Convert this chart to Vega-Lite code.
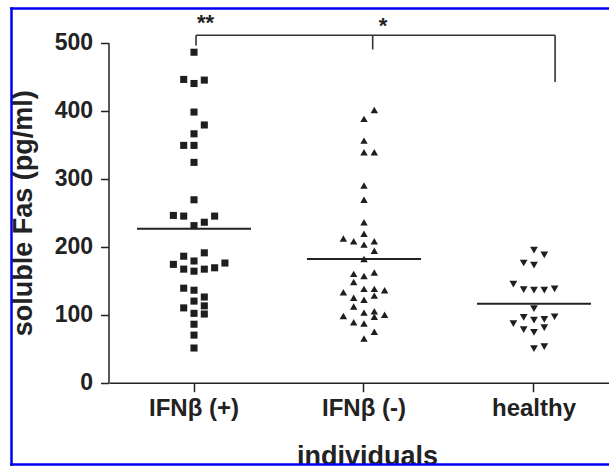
{
  "$schema": "https://vega.github.io/schema/vega-lite/v6.json",
  "width": 602,
  "height": 456,
  "autosize": {"type": "none"},
  "padding": {"left": 11, "top": 8, "right": -4, "bottom": 2},
  "background": "white",
  "config": {
    "view": {"stroke": null},
    "font": "Liberation Sans"
  },
  "datasets": {
    "points": [
      {"group": "IFNβ (+)", "value": 486, "slot": 0},
      {"group": "IFNβ (+)", "value": 446, "slot": -1},
      {"group": "IFNβ (+)", "value": 440, "slot": 0},
      {"group": "IFNβ (+)", "value": 445, "slot": 1},
      {"group": "IFNβ (+)", "value": 398, "slot": 0},
      {"group": "IFNβ (+)", "value": 379, "slot": 1},
      {"group": "IFNβ (+)", "value": 366, "slot": 0},
      {"group": "IFNβ (+)", "value": 349, "slot": -1},
      {"group": "IFNβ (+)", "value": 349, "slot": 0},
      {"group": "IFNβ (+)", "value": 324, "slot": 0},
      {"group": "IFNβ (+)", "value": 269, "slot": 0},
      {"group": "IFNβ (+)", "value": 246, "slot": -2},
      {"group": "IFNβ (+)", "value": 245, "slot": -1},
      {"group": "IFNβ (+)", "value": 245, "slot": 2},
      {"group": "IFNβ (+)", "value": 231, "slot": 0},
      {"group": "IFNβ (+)", "value": 236, "slot": 1},
      {"group": "IFNβ (+)", "value": 191, "slot": 1},
      {"group": "IFNβ (+)", "value": 186, "slot": -1},
      {"group": "IFNβ (+)", "value": 179, "slot": 0},
      {"group": "IFNβ (+)", "value": 174, "slot": -2},
      {"group": "IFNβ (+)", "value": 167, "slot": -1},
      {"group": "IFNβ (+)", "value": 164, "slot": 0},
      {"group": "IFNβ (+)", "value": 167, "slot": 1},
      {"group": "IFNβ (+)", "value": 169, "slot": 2},
      {"group": "IFNβ (+)", "value": 176, "slot": 3},
      {"group": "IFNβ (+)", "value": 139, "slot": -1},
      {"group": "IFNβ (+)", "value": 136, "slot": 0},
      {"group": "IFNβ (+)", "value": 126, "slot": 1},
      {"group": "IFNβ (+)", "value": 120, "slot": 0},
      {"group": "IFNβ (+)", "value": 110, "slot": -1},
      {"group": "IFNβ (+)", "value": 113, "slot": 1},
      {"group": "IFNβ (+)", "value": 102, "slot": 0},
      {"group": "IFNβ (+)", "value": 101, "slot": 1},
      {"group": "IFNβ (+)", "value": 86, "slot": 0},
      {"group": "IFNβ (+)", "value": 70, "slot": 0},
      {"group": "IFNβ (+)", "value": 51, "slot": 0},
      {"group": "IFNβ (-)", "value": 401, "slot": 1},
      {"group": "IFNβ (-)", "value": 388, "slot": 0},
      {"group": "IFNβ (-)", "value": 356, "slot": 0},
      {"group": "IFNβ (-)", "value": 339, "slot": 0},
      {"group": "IFNβ (-)", "value": 339, "slot": 1},
      {"group": "IFNβ (-)", "value": 290, "slot": 0},
      {"group": "IFNβ (-)", "value": 269, "slot": 0},
      {"group": "IFNβ (-)", "value": 236, "slot": 0},
      {"group": "IFNβ (-)", "value": 219, "slot": 0},
      {"group": "IFNβ (-)", "value": 212, "slot": -2},
      {"group": "IFNβ (-)", "value": 208, "slot": -1},
      {"group": "IFNβ (-)", "value": 203, "slot": 0},
      {"group": "IFNβ (-)", "value": 208, "slot": 1},
      {"group": "IFNβ (-)", "value": 194, "slot": 1},
      {"group": "IFNβ (-)", "value": 182, "slot": 0},
      {"group": "IFNβ (-)", "value": 160, "slot": -1},
      {"group": "IFNβ (-)", "value": 157, "slot": 0},
      {"group": "IFNβ (-)", "value": 162, "slot": 1},
      {"group": "IFNβ (-)", "value": 148, "slot": -1},
      {"group": "IFNβ (-)", "value": 133, "slot": -2},
      {"group": "IFNβ (-)", "value": 138, "slot": 0},
      {"group": "IFNβ (-)", "value": 138, "slot": 1},
      {"group": "IFNβ (-)", "value": 136, "slot": 2},
      {"group": "IFNβ (-)", "value": 125, "slot": -1},
      {"group": "IFNβ (-)", "value": 122, "slot": 0},
      {"group": "IFNβ (-)", "value": 128, "slot": 1},
      {"group": "IFNβ (-)", "value": 112, "slot": -1},
      {"group": "IFNβ (-)", "value": 98, "slot": -2},
      {"group": "IFNβ (-)", "value": 103, "slot": 0},
      {"group": "IFNβ (-)", "value": 105, "slot": 1},
      {"group": "IFNβ (-)", "value": 97, "slot": 1},
      {"group": "IFNβ (-)", "value": 100, "slot": 2},
      {"group": "IFNβ (-)", "value": 89, "slot": -1},
      {"group": "IFNβ (-)", "value": 87, "slot": 0},
      {"group": "IFNβ (-)", "value": 75, "slot": 1},
      {"group": "IFNβ (-)", "value": 65, "slot": 0},
      {"group": "healthy", "value": 195, "slot": 0},
      {"group": "healthy", "value": 188, "slot": 1},
      {"group": "healthy", "value": 176, "slot": -1},
      {"group": "healthy", "value": 173, "slot": 0},
      {"group": "healthy", "value": 145, "slot": -2},
      {"group": "healthy", "value": 137, "slot": -1},
      {"group": "healthy", "value": 136, "slot": 0},
      {"group": "healthy", "value": 136, "slot": 1},
      {"group": "healthy", "value": 138, "slot": 2},
      {"group": "healthy", "value": 109, "slot": 0},
      {"group": "healthy", "value": 96, "slot": -1},
      {"group": "healthy", "value": 92, "slot": 0},
      {"group": "healthy", "value": 93, "slot": 1},
      {"group": "healthy", "value": 97, "slot": 2},
      {"group": "healthy", "value": 87, "slot": -2},
      {"group": "healthy", "value": 78, "slot": -1},
      {"group": "healthy", "value": 74, "slot": 0},
      {"group": "healthy", "value": 81, "slot": 1},
      {"group": "healthy", "value": 50, "slot": 0},
      {"group": "healthy", "value": 53, "slot": 1}
    ],
    "medians": [
      {"group": "IFNβ (+)", "median": 226.5},
      {"group": "IFNβ (-)", "median": 182},
      {"group": "healthy", "median": 116}
    ],
    "bracket": [
      {"x": 1.012, "x2": 3.124, "y": 511, "y2": 511},
      {"x": 1.012, "x2": 1.012, "y": 511, "y2": 496},
      {"x": 2.051, "x2": 2.051, "y": 511, "y2": 490},
      {"x": 3.124, "x2": 3.124, "y": 511, "y2": 442}
    ],
    "stars": [
      {"x": 1.068, "y": 529, "label": "**"},
      {"x": 2.112, "y": 524, "label": "*"}
    ]
  },
  "layer": [
    {
      "layer": [
        {
          "data": {"name": "points"},
          "mark": {"type": "point", "filled": true, "color": "#1e1e1e", "opacity": 1},
          "encoding": {
            "x": {
              "field": "group",
              "type": "nominal",
              "sort": ["IFNβ (+)", "IFNβ (-)", "healthy"],
              "scale": {"type": "band", "range": [98, 614], "paddingInner": 0.3294, "paddingOuter": 0.1824, "align": 0.4516},
              "axis": {
                "orient": "bottom",
                "title": "individuals",
                "offset": -81.3,
                "labelAngle": 0,
                "domainColor": "#222",
                "domainWidth": 1.5,
                "tickColor": "#222",
                "tickWidth": 1.5,
                "tickSize": 9,
                "labelFontSize": 24,
                "labelFontWeight": "bold",
                "labelColor": "#222",
                "labelPadding": 5,
                "titleFontSize": 27,
                "titleFontWeight": "bold",
                "titleColor": "#222",
                "titlePadding": 23
              }
            },
            "xOffset": {"field": "slot", "type": "quantitative", "scale": {"domain": [-5.53, 5.53]}},
            "y": {
              "field": "value",
              "type": "quantitative",
              "scale": {"domain": [0, 500], "range": [374.7, 34.7], "nice": false},
              "axis": {
                "orient": "left",
                "values": [0, 100, 200, 300, 400, 500],
                "title": "soluble Fas (pg/ml)",
                "offset": -97.5,
                "grid": false,
                "domainColor": "#222",
                "domainWidth": 1.5,
                "tickColor": "#222",
                "tickWidth": 1.5,
                "tickSize": 8,
                "labelFontSize": 23,
                "labelFontWeight": "bold",
                "labelColor": "#222",
                "labelPadding": 8,
                "titleFontSize": 27,
                "titleFontWeight": "bold",
                "titleColor": "#222",
                "titlePadding": 17
              }
            },
            "shape": {
              "field": "group",
              "type": "nominal",
              "scale": {"domain": ["IFNβ (+)", "IFNβ (-)", "healthy"], "range": ["square", "triangle-up", "triangle-down"]},
              "legend": null
            },
            "size": {
              "field": "group",
              "type": "nominal",
              "scale": {"domain": ["IFNβ (+)", "IFNβ (-)", "healthy"], "range": [50, 60, 60]},
              "legend": null
            }
          }
        },
        {
          "data": {"name": "medians"},
          "mark": {"type": "rule", "color": "#222", "strokeWidth": 2},
          "encoding": {
            "x": {"field": "group", "type": "nominal", "sort": ["IFNβ (+)", "IFNβ (-)", "healthy"], "bandPosition": 0},
            "x2": {"field": "group", "bandPosition": 1},
            "y": {"field": "median", "type": "quantitative"}
          }
        }
      ]
    },
    {
      "data": {"name": "bracket"},
      "mark": {"type": "rule", "color": "#333", "strokeWidth": 1.6},
      "encoding": {
        "x": {
          "field": "x",
          "type": "quantitative",
          "scale": {"domain": [-0.0765, 3.4647], "nice": false, "zero": false},
          "axis": {"orient": "top", "offset": 0, "domainColor": "#0000f0", "domainWidth": 2.5, "domainCap": "square", "ticks": false, "labels": false, "grid": false, "title": null, "zindex": 2}
        },
        "x2": {"field": "x2"},
        "y": {
          "field": "y",
          "type": "quantitative",
          "scale": {"domain": [-119.56, 551.0], "nice": false, "zero": false},
          "axis": null
        },
        "y2": {"field": "y2"}
      }
    },
    {
      "data": {"name": "stars"},
      "mark": {"type": "text", "fontSize": 22, "fontWeight": "bold", "color": "#222", "align": "center", "baseline": "middle"},
      "encoding": {
        "x": {
          "field": "x",
          "type": "quantitative",
          "scale": {"domain": [-0.0765, 3.4647], "nice": false, "zero": false},
          "axis": {"orient": "bottom", "offset": 0, "domainColor": "#0000f0", "domainWidth": 2.5, "domainCap": "square", "ticks": false, "labels": false, "grid": false, "title": null, "zindex": 2}
        },
        "y": {
          "field": "y",
          "type": "quantitative",
          "scale": {"domain": [-119.56, 551.0], "nice": false, "zero": false},
          "axis": {"orient": "left", "offset": 0, "domainColor": "#0000f0", "domainWidth": 2.5, "domainCap": "square", "ticks": false, "labels": false, "grid": false, "title": null, "zindex": 2}
        },
        "text": {"field": "label"}
      }
    }
  ],
  "resolve": {"scale": {"x": "independent", "y": "independent"}, "axis": {"x": "independent", "y": "independent"}}
}
